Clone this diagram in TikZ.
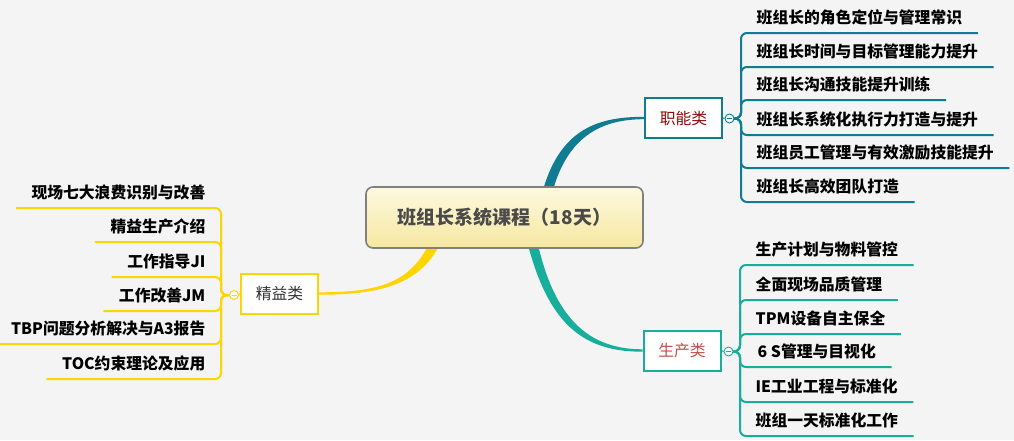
\documentclass[tikz,border=0pt]{standalone}
\usepackage{fontspec}
\newfontfamily\cjk{Noto Sans CJK SC}
\usetikzlibrary{calc}
\definecolor{bgc}{HTML}{F4F4F4}
\definecolor{cTop}{HTML}{0F7C92}
\definecolor{cBot}{HTML}{17AE9C}
\definecolor{cLeft}{HTML}{FFD500}
\definecolor{tTop}{HTML}{8B0A0A}
\definecolor{tBot}{HTML}{C0504D}
\definecolor{tLeft}{HTML}{333333}
\definecolor{rootText}{HTML}{4A4A4A}
\definecolor{rootBorder}{HTML}{808080}
\definecolor{rootTop}{HTML}{FDF9E0}
\definecolor{rootBot}{HTML}{F6E7A0}
\pgfdeclarelayer{back}
\pgfsetlayers{back,main}
\begin{document}
\begin{tikzpicture}[x=1pt,y=-1pt,
  every node/.style={font=\cjk},
  rootbox/.style={draw=rootBorder, line width=1.6pt, rounded corners=7pt, top color=rootTop, bottom color=rootBot, minimum width=277pt, minimum height=61pt, text=rootText, font=\cjk\bfseries\fontsize{19}{22}\selectfont},
  branchbox/.style={draw=#1, line width=2pt, fill=white, minimum width=77pt, minimum height=40pt, inner sep=0pt, font=\cjk\fontsize{15.8}{18}\selectfont},
  foldmark/.style={circle, draw=#1, line width=0.9pt, fill=white, minimum size=9pt, inner sep=0pt},
  leafR/.style={anchor=south west, inner xsep=15.5pt, inner ysep=6.5pt, text height=12pt, text depth=3pt, font=\cjk\bfseries\fontsize{15.8}{18}\selectfont},
  leafL/.style={leafR, anchor=south east},
  spine/.style={draw=#1, line width=2pt, rounded corners=6pt},
  minus/.style={draw=#1, line width=0.8pt},
  link/.style={draw=#1, line width=1pt},
]
\begin{pgfonlayer}{back}
\fill[bgc] (0,0) rectangle (1014,440);
\end{pgfonlayer}
\useasboundingbox (0,0) rectangle (1014,440);

% root and branches
\node[rootbox] (root) at (504.5,217.5) {班组长系统课程（18天）};
\node[branchbox=cTop, text=tTop] (zn) at (683.5,118) {职能类};
\node[branchbox=cBot, text=tBot] (sc) at (682,350.5) {生产类};
\node[branchbox=cLeft, text=tLeft] (jy) at (279.5,293.5) {精益类};

% fold marks
\node[foldmark=cTop] (fz) at (729.5,118.5) {};
\node[foldmark=cBot] (fs) at (728.5,351.5) {};
\node[foldmark=cLeft] (fj) at (234,295) {};
\draw[minus=cTop] ($(fz.center)+(-2.5,0)$) -- ($(fz.center)+(2.5,0)$);
\draw[minus=cBot] ($(fs.center)+(-2.5,0)$) -- ($(fs.center)+(2.5,0)$);
\draw[minus=cLeft] ($(fj.center)+(-2.5,0)$) -- ($(fj.center)+(2.5,0)$);
\draw[link=cTop] (zn.east) -- (fz.west);
\draw[link=cBot] (sc.east) -- (fs.west);
\draw[link=cLeft] (jy.west) -- (fj.east);

% leaves: top right
\node[leafR] (a1) at (741,33) {班组长的角色定位与管理常识};
\node[leafR] (a2) at (741,67) {班组长时间与目标管理能力提升};
\node[leafR] (a3) at (741,100) {班组长沟通技能提升训练};
\node[leafR] (a4) at (741,135) {班组长系统化执行力打造与提升};
\node[leafR] (a5) at (741,168) {班组员工管理与有效激励技能提升};
\node[leafR] (a6) at (741,202) {班组长高效团队打造};

% leaves: bottom right
\node[leafR] (b1) at (740,265) {生产计划与物料管控};
\node[leafR] (b2) at (740,300) {全面现场品质管理};
\node[leafR] (b3) at (740,334) {TPM设备自主保全};
\node[leafR] (b4) at (740,367) {\hspace{2pt}6 S管理与目视化};
\node[leafR] (b5) at (740,402) {IE工业工程与标准化};
\node[leafR] (b6) at (740,436) {班组一天标准化工作};

% leaves: left
\node[leafL] (c1) at (221,208) {现场七大浪费识别与改善};
\node[leafL] (c2) at (221,242) {精益生产介绍};
\node[leafL] (c3) at (221,277) {工作指导JI};
\node[leafL] (c4) at (221,311) {工作改善JM};
\node[leafL] (c5) at (221,344) {TBP问题分析解决与A3报告};
\node[leafL] (c6) at (221,379) {TOC约束理论及应用};

% spines
\foreach \n in {a1,a2,a3,a4,a5,a6}
  \draw[spine=cTop] (fz.east) -| (\n.south west) -- (\n.south east);
\foreach \n in {b1,b2,b3,b4,b5,b6}
  \draw[spine=cBot] (fs.east) -| (\n.south west) -- (\n.south east);
\foreach \n in {c1,c2,c3,c4,c5,c6}
  \draw[spine=cLeft] (fj.west) -| (\n.south east) -- (\n.south west);

% tapered main connectors
\begin{pgfonlayer}{back}
\fill[cTop] ($(root.north)+(39,2)$) .. controls +(18,-60) and +(-45,0) .. ($(zn.west)+(0,-1.2)$)
  -- ($(zn.west)+(0,1.2)$) .. controls +(-40,0) and +(16,-54) .. ($(root.north)+(49,2)$) -- cycle;
\fill[cBot] ($(root.south)+(24,-2)$) .. controls +(22,82) and +(-55,0) .. ($(sc.west)+(0,1.2)$)
  -- ($(sc.west)+(0,-1.2)$) .. controls +(-50,0) and +(18,76) .. ($(root.south)+(34,-2)$) -- cycle;
\fill[cLeft] ($(root.south)+(-66,-2)$) .. controls +(-22,42) and +(50,0) .. ($(jy.east)+(0,1.2)$)
  -- ($(jy.east)+(0,-1.2)$) .. controls +(55,0) and +(-20,38) .. ($(root.south)+(-77,-2)$) -- cycle;
\end{pgfonlayer}
\end{tikzpicture}
\end{document}
